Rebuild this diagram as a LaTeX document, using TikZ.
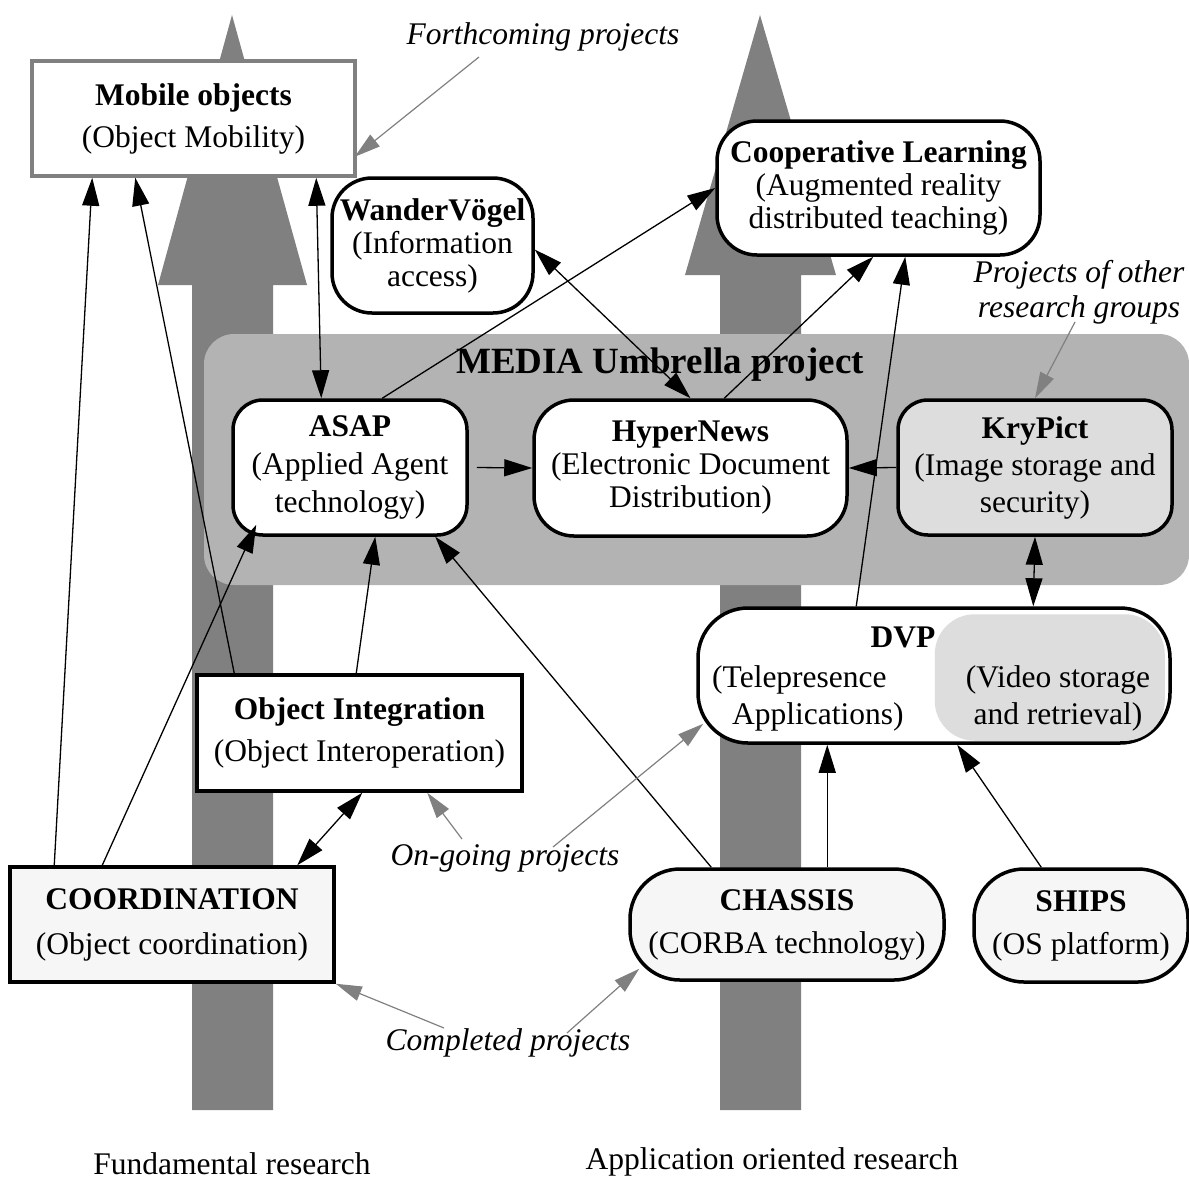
\documentclass[tikz,border=0pt]{standalone}
\usepackage{fontspec}
\setmainfont{Liberation Serif}
\usetikzlibrary{arrows.meta,calc}
\definecolor{arrowgray}{RGB}{128,128,128}
\definecolor{umbgray}{RGB}{179,179,179}
\definecolor{lightfill}{RGB}{221,221,221}
\definecolor{palefill}{RGB}{246,246,246}
\begin{document}
\begin{tikzpicture}[x=1pt,y=-1pt,
  basebox/.style={draw=black,line width=3.5pt,fill=white,inner sep=0pt,align=center},
  sqbox/.style={basebox},
  rbox/.style={basebox,rounded corners=#1},
  rbox/.default=40pt,
  two/.style={font=\fontsize{31.5}{42}\selectfont},
  three/.style={font=\fontsize{31.5}{#1}\selectfont},
  lbl/.style={font=\fontsize{31.5}{36}\selectfont\itshape,inner sep=0pt,align=center},
  plain/.style={font=\fontsize{31.5}{36}\selectfont,inner sep=0pt},
  conn/.style={draw=black,line width=1.3pt,-{Triangle[length=28pt,width=17pt]}},
  dconn/.style={draw=black,line width=1.3pt,{Triangle[length=28pt,width=17pt]}-{Triangle[length=28pt,width=17pt]}},
  ptr/.style={draw=arrowgray,line width=1.2pt,-{Triangle[length=26pt,width=15pt]}},
  bigarrow/.style={fill=arrowgray}
]
\useasboundingbox (0,0) rectangle (1189,1179);

% big research arrows
\fill[bigarrow] (232,15) -- (307,285) -- (273,285) -- (273,1110) -- (192,1110) -- (192,285) -- (158,285) -- cycle;
\fill[bigarrow] (760,15) -- (836,275) -- (801,275) -- (801,1110) -- (720,1110) -- (720,275) -- (685,275) -- cycle;

% umbrella
\fill[umbgray,rounded corners=30pt] (204,334) rectangle (1189,585);
\node[font=\fontsize{37}{40}\selectfont\bfseries,inner sep=0pt] (umbtitle) at (660,365) {MEDIA Umbrella project};

% nodes
\node[sqbox,draw=arrowgray,two,minimum width=323pt,minimum height=115pt] (mobile) at (193.5,118.5)
  {{\bfseries Mobile objects}\\(Object Mobility)};
\node[rbox=40pt,three=33,minimum width=323pt,minimum height=134pt] (coop) at (878.5,188)
  {{\bfseries Cooperative Learning}\\(Augmented reality\\distributed teaching)};
\node[rbox=40pt,three=33,minimum width=201pt,minimum height=135pt] (wander) at (432.5,245.5)
  {{\bfseries WanderVögel}\\(Information\\access)};
\node[rbox=30pt,three=38,minimum width=234pt,minimum height=135pt] (asap) at (350,467.5)
  {{\bfseries ASAP}\\(Applied Agent\\technology)};
\node[rbox=40pt,three=33,minimum width=313pt,minimum height=136pt] (hyper) at (690.5,468)
  {{\bfseries HyperNews}\\(Electronic Document\\Distribution)};
\node[rbox=30pt,three=37,fill=lightfill,minimum width=274pt,minimum height=135pt] (krypict) at (1035,467.5)
  {{\bfseries KryPict}\\(Image storage and\\security)};
\node[rbox=50pt,minimum width=472pt,minimum height=135pt] (dvp) at (934,675.5) {};
\fill[lightfill,rounded corners=40pt] ($(dvp.north east)+(-237,8)$) rectangle ($(dvp.south east)+(-7,-4)$);
\node[font=\fontsize{31.5}{36}\selectfont\bfseries,inner sep=0pt] (dvptitle) at (903,637) {DVP};
\node[font=\fontsize{31.5}{37}\selectfont,inner sep=0pt,align=left,anchor=west] (dvpleft) at (712,698)
  {(Telepresence\\\hspace*{20pt}Applications)};
\node[font=\fontsize{31.5}{37}\selectfont,inner sep=0pt,align=center] (dvpright) at (1058,698)
  {(Video storage\\and retrieval)};
\node[sqbox,two,minimum width=325pt,minimum height=116pt] (objint) at (359.5,733)
  {{\bfseries Object Integration}\\(Object Interoperation)};
\node[sqbox,fill=palefill,font=\fontsize{31.5}{45}\selectfont,minimum width=324pt,minimum height=115pt] (coord) at (172,924.5)
  {{\bfseries COORDINATION}\\(Object coordination)};
\node[rbox=50pt,fill=palefill,font=\fontsize{31.5}{43}\selectfont,minimum width=314pt,minimum height=111pt] (chassis) at (787,924.5)
  {{\bfseries CHASSIS}\\(CORBA technology)};
\node[rbox=50pt,fill=palefill,font=\fontsize{31.5}{43}\selectfont,minimum width=214pt,minimum height=113pt] (ships) at (1081,925.5)
  {{\bfseries SHIPS}\\(OS platform)};

% labels
\node[lbl] (forth) at (543,37) {Forthcoming projects};
\node[lbl,font=\fontsize{31.5}{35}\selectfont\itshape] (other) at (1079,292) {Projects of other\\research groups};
\node[lbl] (ongoing) at (505,858) {On-going projects};
\node[lbl] (completed) at (508,1043) {Completed projects};
\node[plain] (fund) at (232,1164) {Fundamental research};
\node[plain] (appl) at (772,1162) {Application oriented research};

% black connectors
\draw[conn] ($(coord.north west)+(46,0)$) -- ($(mobile.south west)+(62,0)$);
\draw[conn] ($(objint.north west)+(39,0)$) -- ($(mobile.south west)+(105,0)$);
\draw[dconn] ($(mobile.south west)+(286,0)$) -- ($(asap.north west)+(90,0)$);
\draw[conn] ($(asap.north west)+(151,0)$) -- (coop.west);
\draw[dconn] ($(wander.east)+(0,4)$) -- (hyper.north);
\draw[conn] ($(hyper.north west)+(192,0)$) -- ($(coop.south west)+(158,0)$);
\draw[conn] ($(dvp.north west)+(160,0)$) -- ($(coop.south west)+(190,0)$);
\draw[dconn] (krypict.south) -- ($(dvp.north west)+(337,0)$);
\draw[conn] ($(objint.north west)+(161,0)$) -- ($(asap.south west)+(144,0)$);
\draw[conn] ($(chassis.north west)+(83,0)$) -- ($(asap.south west)+(204,0)$);
\draw[conn] ($(chassis.north west)+(199,0)$) -- ($(dvp.south west)+(131,0)$);
\draw[conn] ($(ships.north west)+(69,0)$) -- ($(dvp.south west)+(261,0)$);
\draw[dconn] ($(coord.north west)+(289,0)$) -- ($(objint.south west)+(167,0)$);
\draw[conn] ($(coord.north west)+(94,0)$) -- ($(asap.south west)+(25,-12)$);
\draw[conn] ($(asap.east)+(8,0)$) -- (hyper.west);
\draw[conn] (krypict.west) -- (hyper.east);

% gray pointers
\draw[ptr] ($(forth)+(-64,20)$) -- ($(mobile.south east)+(-2,-21)$);
\draw[ptr] ($(other)+(-4,30)$) -- (krypict.north);
\draw[ptr] ($(ongoing)+(-43,-19)$) -- ($(objint.south west)+(232,0)$);
\draw[ptr] ($(ongoing)+(48,-11)$) -- ($(dvp.south west)+(7,-21)$);
\draw[ptr] ($(completed)+(-64,-15)$) -- (coord.south east);
\draw[ptr] ($(completed)+(59,-10)$) -- ($(chassis.south west)+(11,-13)$);
\end{tikzpicture}
\end{document}
